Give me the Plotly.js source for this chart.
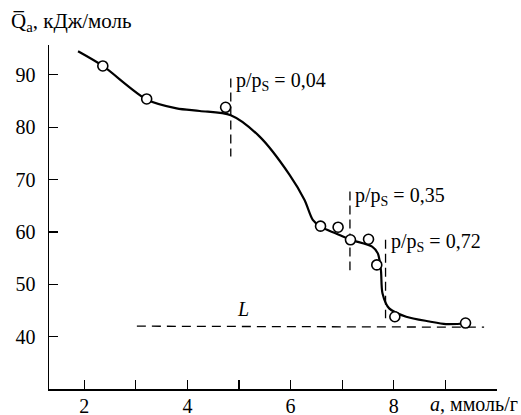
<!DOCTYPE html>
<html><head><meta charset="utf-8">
<script src="https://cdn.plot.ly/plotly-3.0.1.min.js"></script>
<style>html,body{margin:0;padding:0;background:#fff}#chart{width:521px;height:415px}</style>
</head><body><div id="chart"></div>
<script>
// smooth curve (Q vs a)
var curveX = [1.88, 2.36, 3.21, 3.79, 4.24, 4.84, 5.40, 5.98, 6.27, 6.43, 6.58, 6.88, 7.16, 7.58, 7.69, 7.75, 7.78, 7.91, 8.24, 8.69, 9.01, 9.39, 9.45];
var curveY = [94.5, 91.7, 85.3, 83.6, 83.1, 82.3, 78.2, 70.9, 66.1, 62.3, 61.0, 59.7, 58.5, 57.2, 55.9, 52.7, 48.3, 45.4, 43.8, 42.9, 42.4, 42.5, 42.5];
// measured points
var pointX = [2.36, 3.21, 4.74, 6.58, 6.92, 7.16, 7.51, 7.67, 8.02, 9.39];
var pointY = [91.7, 85.4, 83.8, 61.1, 60.9, 58.5, 58.6, 53.7, 43.8, 42.6];
// liquid heat line L
var lineLX = [3.02, 9.75];
var lineLY = [42.0, 41.8];
// vertical markers at relative pressures
var pressLabels = ["0,04", "0,35", "0,72"];
var pressX = [4.84, 7.15, 7.84];
var pressYTop = [89.3, 67.7, 58.5];
var pressYBot = [74.4, 52.7, 43.5];
var pressLabelY = [88.7, 66.8, 57.9];
// axis ticks
var xTickVals = [2, 3, 4, 5, 6, 7, 8, 9, 10];
var xTickText = ["2", "", "4", "", "6", "", "8", "", ""];
var yTickVals = [40, 50, 60, 70, 80, 90];

var FONT = "Liberation Serif";
var FS = 20;
var traces = [];
traces.push({x: lineLX, y: lineLY, mode: "lines", line: {color: "#000", width: 1.3, dash: "9px,6px"}, hoverinfo: "skip"});
for (var i = 0; i < pressX.length; i++) {
  traces.push({x: [pressX[i], pressX[i]], y: [pressYTop[i], pressYBot[i]], mode: "lines",
    line: {color: "#000", width: 1.3, dash: "9px,5px"}, hoverinfo: "skip"});
}
traces.push({x: curveX, y: curveY, mode: "lines", line: {color: "#000", width: 2.2, shape: "spline", smoothing: 0.8}, hoverinfo: "skip"});
traces.push({x: pointX, y: pointY, mode: "markers", marker: {size: 10, color: "#fff", line: {color: "#000", width: 1.6}}, hoverinfo: "skip"});

var W = 521 - 49 - 24, H = 415 - 45 - 26;
var ann = [];
for (var j = 0; j < pressX.length; j++) {
  ann.push({x: pressX[j], y: pressLabelY[j], xref: "x", yref: "y", xanchor: "left", yanchor: "middle",
    xshift: 3, text: "p/p<sub>S</sub> = " + pressLabels[j], showarrow: false, font: {family: FONT, size: FS, color: "#000"}});
}
ann.push({x: 5.07, y: 45.3, xref: "x", yref: "y", text: "<i>L</i>", showarrow: false, font: {family: FONT, size: FS, color: "#000"}});
ann.push({x: (9 - 49) / W, y: 1 + (45 - 22) / H, xref: "paper", yref: "paper", xanchor: "left", yanchor: "middle",
  text: "Q\u0305<sub>a</sub>, кДж/моль", showarrow: false, font: {family: FONT, size: 21, color: "#000"}});
ann.push({x: (520 - 49) / W, y: -(404 - 389) / H, xref: "paper", yref: "paper", xanchor: "right", yanchor: "middle",
  text: "<i>a</i>, ммоль/г", showarrow: false, font: {family: FONT, size: FS, color: "#000"}});

var layout = {
  width: 521, height: 415,
  margin: {l: 49, r: 24, t: 45, b: 26},
  paper_bgcolor: "#fff", plot_bgcolor: "#fff",
  showlegend: false,
  font: {family: FONT, size: FS, color: "#000"},
  xaxis: {range: [1.317, 10], tickvals: xTickVals, ticktext: xTickText, ticks: "inside", ticklen: 9, tickwidth: 1.3, ticklabelstandoff: -2,
    tickcolor: "#000", showline: true, linecolor: "#000", linewidth: 1.5, showgrid: false, zeroline: false,
    tickfont: {family: FONT, size: FS}},
  yaxis: {range: [30, 95.7], tickvals: yTickVals, ticks: "inside", ticklen: 9, tickwidth: 1.3, ticklabelstandoff: 8,
    tickcolor: "#000", showline: true, linecolor: "#000", linewidth: 1.5, showgrid: false, zeroline: false,
    tickfont: {family: FONT, size: FS}},
  annotations: ann
};

Plotly.newPlot("chart", traces, layout, {displayModeBar: false, staticPlot: true});
</script></body></html>
